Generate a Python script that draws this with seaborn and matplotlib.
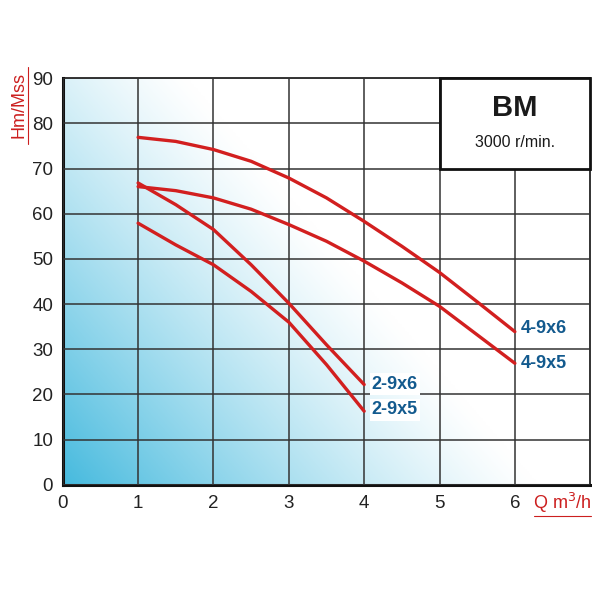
import numpy as np
import pandas as pd
import matplotlib
matplotlib.use("Agg")
import matplotlib.pyplot as plt
from matplotlib.lines import Line2D
import seaborn as sns

# curve values
q_4 = [1, 1.5, 2, 2.5, 3, 3.5, 4, 4.5, 5, 5.5, 6]
h_4_9x6 = [76.9, 76.0, 74.2, 71.6, 67.9, 63.5, 58.3, 52.8, 47.0, 40.5, 33.9]
h_4_9x5 = [66.0, 65.1, 63.5, 61.0, 57.6, 53.9, 49.5, 44.7, 39.5, 33.2, 26.9]
q_2 = [1, 1.5, 2, 2.5, 3, 3.5, 4]
h_2_9x6 = [66.8, 62.0, 56.5, 48.7, 40.2, 31.0, 22.2]
h_2_9x5 = [57.9, 53.1, 48.7, 42.8, 36.0, 26.6, 16.3]
names = ["4-9x6", "4-9x5", "2-9x6", "2-9x5"]
x_ticks = [0, 1, 2, 3, 4, 5, 6]
y_ticks = [0, 10, 20, 30, 40, 50, 60, 70, 80, 90]

sns.set_style("white")
plt.rcParams["font.family"] = ["Liberation Sans Narrow", "Liberation Sans", "DejaVu Sans"]

df = pd.concat([
    pd.DataFrame({"Q": q_4, "H": h_4_9x6, "pump": names[0]}),
    pd.DataFrame({"Q": q_4, "H": h_4_9x5, "pump": names[1]}),
    pd.DataFrame({"Q": q_2, "H": h_2_9x6, "pump": names[2]}),
    pd.DataFrame({"Q": q_2, "H": h_2_9x5, "pump": names[3]}),
])

fig = plt.figure(figsize=(5.92, 5.92), dpi=100)
ax = fig.add_axes([0.106, 0.181, 0.891, 0.687])

# background gradient, cyan in the lower left fading to white
gx, gy = np.meshgrid(np.linspace(0, 1, 300), np.linspace(0, 1, 300))
d = gx / 0.9 + gy / 1.35
t = np.clip(1 - d, 0, 1) ** 1.2
cyan = np.array([70, 186, 222]) / 255
img = np.ones((300, 300, 3)) * (1 - t[..., None]) + cyan * t[..., None]
ax.imshow(img, extent=[0, 7, 0, 90], origin="lower", aspect="auto", zorder=0)

ax.set_xlim(0, 7)
ax.set_ylim(0, 90)
ax.set_xticks(x_ticks)
ax.set_yticks(y_ticks)
ax.grid(True, color="#333333", linewidth=1.1, zorder=1)
ax.set_axisbelow(False)
ax.tick_params(length=0, labelsize=13.5, colors="#222222", pad=7)
for s in ["left", "bottom"]:
    ax.spines[s].set_linewidth(2.2)
for s in ["top", "right"]:
    ax.spines[s].set_linewidth(1.2)
for s in ax.spines.values():
    s.set_color("#111111")

sns.lineplot(data=df, x="Q", y="H", hue="pump", palette=["#d21f1f"] * 4,
             linewidth=2.4, legend=False, ax=ax, zorder=3, sort=False)
for ln in ax.get_lines():
    ln.set_solid_joinstyle("round")
ax.set_xlabel("")
ax.set_ylabel("")

# curve labels
lab_x = [6.08, 6.08, 4.1, 4.1]
lab_y = [34.5, 26.8, 22.3, 16.6]
for n, lx, ly in zip(names, lab_x, lab_y):
    ax.text(lx, ly, n, color="#135a8e", fontsize=13, fontweight="bold",
            ha="left", va="center", zorder=4,
            bbox=dict(facecolor="white", edgecolor="none", pad=1.5))

# BM box
ax.add_patch(plt.Rectangle((5, 70), 2, 20, facecolor="white", edgecolor="#111111",
                           linewidth=2, zorder=4, clip_on=False))
ax.text(6, 83.5, "BM", fontsize=21, fontweight="bold", ha="center", va="center",
        color="#1a1a1a", zorder=5)
ax.text(6, 75.8, "3000 r/min.", fontsize=11.5, ha="center", va="center",
        color="#1a1a1a", zorder=5)

# axis titles, red and underlined
fig.text(0.032, 0.822, "Hm/Mss", rotation=90, color="#cc1f1f", fontsize=13,
         ha="center", va="center")
fig.add_artist(Line2D([0.048, 0.048], [0.757, 0.887], color="#cc1f1f", linewidth=0.8))
fig.text(0.950, 0.150, "Q m$^3$/h", color="#cc1f1f", fontsize=13,
         ha="center", va="center")
fig.add_artist(Line2D([0.902, 0.998], [0.128, 0.128], color="#cc1f1f", linewidth=0.8))

fig.savefig("out.png", dpi=100)
